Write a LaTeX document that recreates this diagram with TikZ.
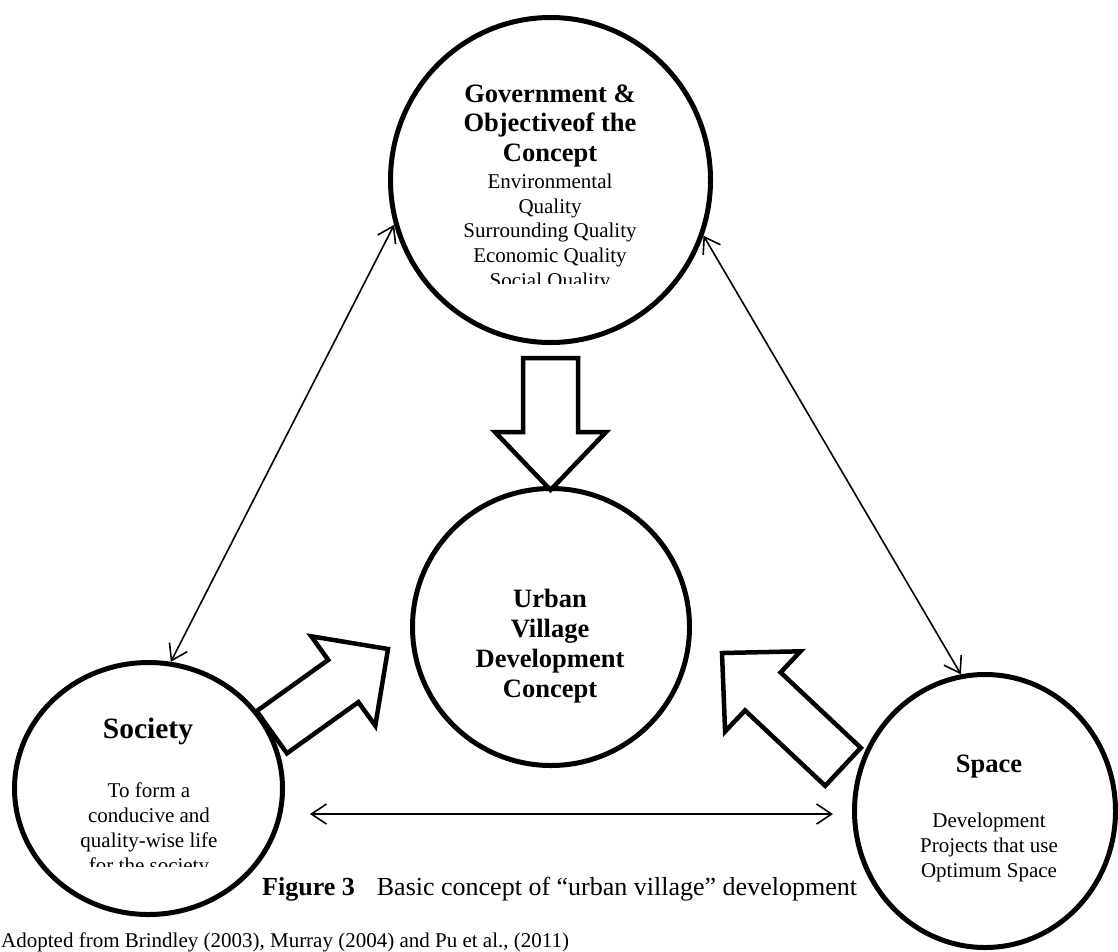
\documentclass[tikz,border=0pt]{standalone}
\usepackage{fontspec}
\setmainfont{Liberation Serif}
\usetikzlibrary{shapes.geometric, arrows.meta, calc}
\begin{document}
\begin{tikzpicture}[x=1pt, y=-1pt,
  ring/.style={ellipse, draw, line width=5pt, fill=white, inner sep=0pt},
  blockarrow/.style={draw, line width=4.5pt, fill=white, line join=miter},
  biarrow/.style={line width=1.6pt, {Straight Barb[length=15pt,width=20pt]}-{Straight Barb[length=15pt,width=20pt]}},
  bodytxt/.style={anchor=base, font=\fontsize{21}{25}\selectfont, inner sep=0pt},
  headtxt/.style={anchor=base, font=\fontsize{26.5}{30}\selectfont\bfseries, inner sep=0pt},
]
\fill[white] (0,0) rectangle (1118,951);
\useasboundingbox (0,0) rectangle (1118,951);

% circles
\node[ring, minimum width=320pt, minimum height=325pt] (gov) at (550.5,180) {};
\node[ring, minimum width=277pt, minimum height=277pt] (uv) at (551,627) {};
\node[ring, minimum width=268pt, minimum height=252pt] (soc) at (148.5,788.5) {};
\node[ring, minimum width=261pt, minimum height=273pt] (spc) at (985,811) {};

% top circle text
\node[headtxt] (g1) at (550,102) {Government \&};
\node[headtxt] (g2) at (550,131) {Objectiveof the};
\node[headtxt] (g3) at (550,161) {Concept};
\node[bodytxt] (g4) at (550,188) {Environmental};
\node[bodytxt] (g5) at (550,213) {Quality};
\node[bodytxt] (g6) at (550,237) {Surrounding Quality};
\node[bodytxt] (g7) at (550,262) {Economic Quality};
\begin{scope}
  \clip (400,265) rectangle (700,283.5);
  \node[bodytxt] (g8) at (550,287) {Social Quality};
\end{scope}

% centre circle text
\node[headtxt] (u1) at (550,607) {Urban};
\node[headtxt] (u2) at (550,637) {Village};
\node[headtxt] (u3) at (550,667) {Development};
\node[headtxt] (u4) at (550,697) {Concept};

% society text
\node[headtxt, font=\fontsize{29.5}{33}\selectfont\bfseries] (s1) at (148,738) {Society};
\node[bodytxt] (s2) at (149,797) {To form a};
\node[bodytxt] (s3) at (149,822) {conducive and};
\node[bodytxt] (s4) at (149,847) {quality-wise life};
\begin{scope}
  \clip (40,850) rectangle (260,866);
  \node[bodytxt] (s5) at (149,872) {for the society};
\end{scope}

% space text
\node[headtxt] (p1) at (989,772) {Space};
\node[bodytxt] (p2) at (989,827) {Development};
\node[bodytxt] (p3) at (989,852) {Projects that use};
\node[bodytxt] (p4) at (989,877) {Optimum Space};

% block arrows
\draw[blockarrow] (523,358) -- (523,432) -- (495,432) -- (550.5,490) -- (606,432) -- (578,432) -- (578,358) -- cycle;
\draw[blockarrow] (256.7,711.1) -- (328.2,659.9) -- (311.3,636.3) -- (388,649) -- (375.3,725.7) -- (358.4,702.1) -- (286.9,753.3) -- cycle;
\draw[blockarrow] (860.8,747.8) -- (780.6,672.4) -- (800.5,651.3) -- (722,653) -- (725.1,731.5) -- (745.0,710.4) -- (825.2,785.8) -- cycle;

% thin double arrows
\draw[biarrow] (gov.196) -- (soc.80);
\draw[biarrow] (gov.-20) -- (spc.100);
\coordinate (hl) at (310,814);
\coordinate (hr) at (833,814);
\draw[biarrow] (hl) -- (hr);

% caption and source
\node[anchor=base west, inner sep=0pt, font=\fontsize{26}{30}\selectfont] (cap) at (262,895) {\textbf{Figure 3}\hspace{22pt}Basic concept of “urban village” development};
\node[anchor=base west, inner sep=0pt, font=\fontsize{21}{25}\selectfont] (src) at (1,947) {Adopted from Brindley (2003), Murray (2004) and Pu et al., (2011)};
\end{tikzpicture}
\end{document}
